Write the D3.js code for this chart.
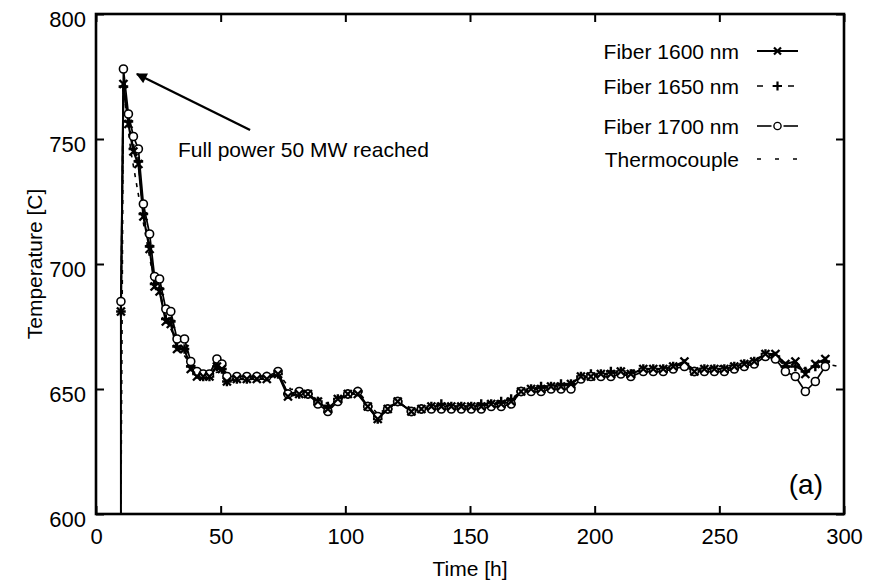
<!DOCTYPE html>
<html>
<head>
<meta charset="utf-8">
<script src="https://cdn.jsdelivr.net/npm/d3@7"></script>
<style>
  body { margin: 0; background: #fff; }
  svg { display: block; }
  text { font-family: "Liberation Sans", Arial, sans-serif; fill: #000; }
</style>
</head>
<body>
<script>
// Data
const time = [10, 11, 13, 15, 17, 19, 21.5, 23.5, 25.5, 28, 30, 32.5, 35.5, 38, 40.5, 43, 45.5, 48.5, 50.5, 52.5,
  56.5, 60.5, 64.5, 68.5, 73, 77, 81.5, 85, 89, 93, 97, 101, 105, 109, 113, 117, 121, 126.5, 130.5, 134.5,
  138.5, 142.5, 146.5, 150.5, 154.5, 158.5, 162.5, 166.5, 170.5, 174.5, 178.5, 182.5, 186.5, 190.5, 194.5, 198.5,
  202.5, 206.5, 210.5, 214.5, 219.5, 223.5, 227.5, 231.5, 236, 240, 244, 248, 252, 256, 260, 264,
  268.5, 272.5, 276.5, 280.5, 284.5, 288.5, 292.5];
const fiber1600 = [681, 772, 756, 745, 740, 719, 706, 691, 689, 677, 676, 666, 666, 658, 655, 655, 655, 659, 658, 653,
  654, 654, 654, 654, 656, 647, 648, 648, 645, 642, 646, 648, 648, 643, 638, 642, 645, 641, 642, 643,
  643, 643, 643, 643, 643, 644, 644, 645, 649, 650, 650, 651, 651, 652, 655, 655,
  656, 656, 657, 656, 658, 658, 658, 659, 661, 657, 658, 658, 658, 659, 660, 661,
  664, 664, 660, 661, 656, 660, 662];
const fiber1650 = [681, 771, 757, 746, 741, 720, 707, 692, 690, 678, 677, 667, 666, 659, 656, 655, 655, 659, 658, 653,
  654, 654, 655, 655, 656, 648, 648, 648, 645, 643, 646, 648, 649, 643, 638, 642, 645, 641, 642, 643,
  644, 643, 643, 643, 644, 644, 645, 646, 649, 650, 651, 651, 652, 652, 655, 656,
  656, 657, 657, 656, 658, 658, 658, 659, 660, 657, 658, 658, 658, 659, 660, 661,
  664, 663, 659, 659, 657, 659, 661];
const fiber1700 = [685, 778, 760, 751, 746, 724, 712, 695, 694, 682, 681, 670, 670, 661, 657, 656, 656, 662, 660, 655,
  655, 655, 655, 655, 657, 648, 649, 648, 644, 641, 645, 648, 649, 643, 639, 642, 645, 641, 642, 642,
  642, 642, 642, 642, 642, 643, 643, 644, 649, 649, 649, 650, 650, 650, 654, 655,
  655, 655, 656, 655, 657, 657, 657, 658, 659, 657, 657, 657, 657, 658, 659, 660,
  663, 662, 657, 655, 649, 653, 659];
const thermoTime = [10, 11, 14, 18, 22, 26, 30, 35, 40, 45, 50, 55, 60, 65, 70, 74, 78, 85, 93, 101, 105, 113, 121,
  127, 140, 150, 160, 167, 171, 180, 190, 195, 210, 220, 232, 236, 240, 260, 269, 273, 277, 285, 293, 298];
const thermoTemp = [600, 770, 745, 722, 700, 686, 674, 664, 657, 656, 657, 656, 656, 656, 656, 655, 650, 649, 644, 648,
  649, 640, 645, 642, 644, 644, 645, 646, 649, 651, 652, 655, 657, 658, 659, 660, 658, 660, 664, 663, 660, 658, 660, 659];
// start of the heating ramp (line rises from the axis at t = 10 h)
const rampTime = [10, 10];
const rampTemp = [600, 681];

const xTicks = [0, 50, 100, 150, 200, 250, 300];
const yTicks = [600, 650, 700, 750, 800];
const legendNames = ["Fiber 1600 nm", "Fiber 1650 nm", "Fiber 1700 nm", "Thermocouple"];

// Layout
const w = 878, h = 582;
const mLeft = 96, mRight = 844, mTop = 14, mBottom = 514;

const svg = d3.select("body").append("svg")
  .attr("width", w).attr("height", h);

const x = d3.scaleLinear().domain([0, 300]).range([mLeft, mRight]);
const y = d3.scaleLinear().domain([600, 800]).range([mBottom, mTop]);

// clip
svg.append("clipPath").attr("id", "clip")
  .append("rect").attr("x", mLeft).attr("y", mTop)
  .attr("width", mRight - mLeft).attr("height", mBottom - mTop);

// Axes with inward ticks on all sides
const tickLen = 8;
const axB = svg.append("g").attr("transform", `translate(0,${mBottom})`)
  .call(d3.axisBottom(x).tickValues(xTicks).tickSize(-tickLen).tickPadding(tickLen + 6));
const axT = svg.append("g").attr("transform", `translate(0,${mTop})`)
  .call(d3.axisTop(x).tickValues(xTicks).tickSize(-tickLen).tickFormat(""));
const axL = svg.append("g").attr("transform", `translate(${mLeft},0)`)
  .call(d3.axisLeft(y).tickValues(yTicks).tickSize(-tickLen).tickPadding(tickLen + 2));
const axR = svg.append("g").attr("transform", `translate(${mRight},0)`)
  .call(d3.axisRight(y).tickValues(yTicks).tickSize(-tickLen).tickFormat(""));

[axB, axT, axL, axR].forEach(a => {
  a.select(".domain").remove();
  a.selectAll("line").attr("stroke", "#000").attr("stroke-width", 2);
  a.selectAll("text").attr("font-size", 22).attr("fill", "#000")
    .attr("font-family", "Liberation Sans, Arial");
});
axL.selectAll("text").attr("dy", "0.55em");
axB.selectAll("text").attr("dy", "0.72em");

// Frame
svg.append("rect")
  .attr("x", mLeft).attr("y", mTop)
  .attr("width", mRight - mLeft).attr("height", mBottom - mTop)
  .attr("fill", "none").attr("stroke", "#000").attr("stroke-width", 2.6);

// Axis titles
svg.append("text")
  .attr("x", (mLeft + mRight) / 2).attr("y", 576)
  .attr("text-anchor", "middle").attr("font-size", 21)
  .text("Time [h]");
svg.append("text")
  .attr("transform", `translate(42,${(mTop + mBottom) / 2}) rotate(-90)`)
  .attr("text-anchor", "middle").attr("font-size", 21)
  .text("Temperature [C]");

// Lines
const plot = svg.append("g").attr("clip-path", "url(#clip)");
const line = d3.line().x(d => x(d[0])).y(d => y(d[1]));
const zip = (a, b) => a.map((t, i) => [t, b[i]]);

const s1600 = zip(time, fiber1600);
const s1650 = zip(time, fiber1650);
const s1700 = zip(time, fiber1700);
const sThermo = zip(thermoTime, thermoTemp);

plot.append("path").datum(sThermo).attr("d", line)
  .attr("fill", "none").attr("stroke", "#000").attr("stroke-width", 1.6)
  .attr("stroke-dasharray", "4,6");
plot.append("path").datum(zip(rampTime, rampTemp)).attr("d", line)
  .attr("fill", "none").attr("stroke", "#000").attr("stroke-width", 2);
plot.append("path").datum(s1650).attr("d", line)
  .attr("fill", "none").attr("stroke", "#000").attr("stroke-width", 1.8)
  .attr("stroke-dasharray", "6,4");
plot.append("path").datum(s1700).attr("d", line)
  .attr("fill", "none").attr("stroke", "#000").attr("stroke-width", 1.7);
plot.append("path").datum(s1600).attr("d", line)
  .attr("fill", "none").attr("stroke", "#000").attr("stroke-width", 2.1);

// Markers
const crossPath = (cx, cy, r) => `M${cx - r},${cy - r}L${cx + r},${cy + r}M${cx - r},${cy + r}L${cx + r},${cy - r}`;
const plusPath = (cx, cy, r) => `M${cx - r},${cy}L${cx + r},${cy}M${cx},${cy - r}L${cx},${cy + r}`;

plot.selectAll(".m1650").data(s1650).enter().append("path")
  .attr("d", d => plusPath(x(d[0]), y(d[1]), 4.8))
  .attr("stroke", "#000").attr("stroke-width", 2.4);
plot.selectAll(".m1700").data(s1700).enter().append("circle")
  .attr("cx", d => x(d[0])).attr("cy", d => y(d[1])).attr("r", 4)
  .attr("fill", "#fff").attr("stroke", "#000").attr("stroke-width", 1.6);
plot.selectAll(".m1600").data(s1600).enter().append("path")
  .attr("d", d => crossPath(x(d[0]), y(d[1]), 4))
  .attr("stroke", "#000").attr("stroke-width", 2.4);

// Legend
const legY = [51, 86, 126, 159];
const lx0 = 757, lx1 = 798, lxm = (lx0 + lx1) / 2;
const leg = svg.append("g");
legendNames.forEach((name, i) => {
  leg.append("text").attr("x", 739).attr("y", legY[i] + 8)
    .attr("text-anchor", "end").attr("font-size", 21).text(name);
});
leg.append("line").attr("x1", lx0).attr("x2", lx1).attr("y1", legY[0]).attr("y2", legY[0])
  .attr("stroke", "#000").attr("stroke-width", 1.8);
leg.append("path").attr("d", crossPath(lxm, legY[0], 3.5)).attr("stroke", "#000").attr("stroke-width", 2.2);
leg.append("line").attr("x1", lx0).attr("x2", lx1).attr("y1", legY[1]).attr("y2", legY[1])
  .attr("stroke", "#000").attr("stroke-width", 1.6).attr("stroke-dasharray", "6,9.5");
leg.append("path").attr("d", plusPath(lxm, legY[1], 4.5)).attr("stroke", "#000").attr("stroke-width", 2.2);
leg.append("line").attr("x1", lx0).attr("x2", lxm - 6).attr("y1", legY[2]).attr("y2", legY[2])
  .attr("stroke", "#000").attr("stroke-width", 1.6);
leg.append("line").attr("x1", lxm + 6).attr("x2", lx1).attr("y1", legY[2]).attr("y2", legY[2])
  .attr("stroke", "#000").attr("stroke-width", 1.6);
leg.append("circle").attr("cx", lxm).attr("cy", legY[2]).attr("r", 3.6)
  .attr("fill", "#fff").attr("stroke", "#000").attr("stroke-width", 1.4);
leg.append("line").attr("x1", lx0).attr("x2", lx1).attr("y1", legY[3]).attr("y2", legY[3])
  .attr("stroke", "#000").attr("stroke-width", 1.5).attr("stroke-dasharray", "4,14");

// Annotation
svg.append("defs").append("marker")
  .attr("id", "arrow").attr("viewBox", "0 0 10 10")
  .attr("refX", 9).attr("refY", 5)
  .attr("markerWidth", 5).attr("markerHeight", 4.5)
  .attr("markerUnits", "strokeWidth").attr("orient", "auto")
  .append("path").attr("d", "M0,0L10,5L0,10Z").attr("fill", "#000");
svg.append("line")
  .attr("x1", x(61.8)).attr("y1", y(753.6))
  .attr("x2", x(16.4)).attr("y2", y(776))
  .attr("stroke", "#000").attr("stroke-width", 2.4)
  .attr("marker-end", "url(#arrow)");
svg.append("text")
  .attr("x", x(32.9)).attr("y", y(743))
  .attr("font-size", 21).text("Full power 50 MW reached");

svg.append("text")
  .attr("x", 823).attr("y", 494)
  .attr("text-anchor", "end").attr("font-size", 28).text("(a)");
</script>
</body>
</html>
